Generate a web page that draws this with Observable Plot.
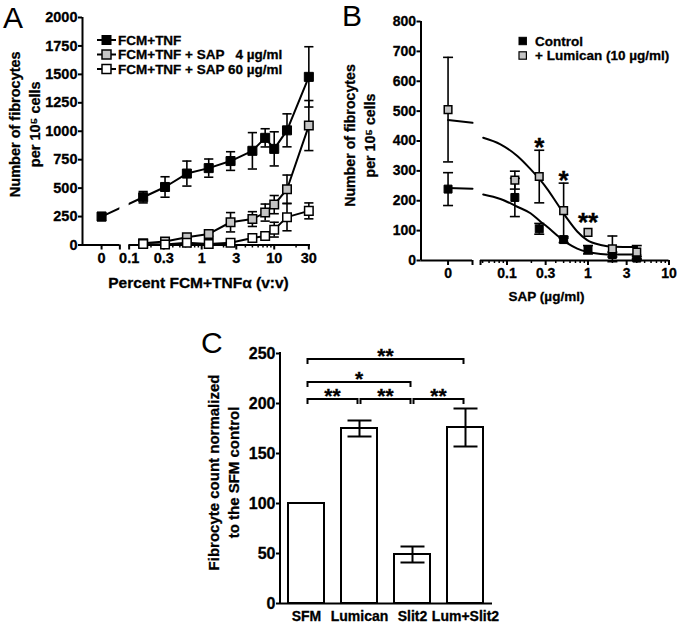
<!DOCTYPE html>
<html>
<head>
<meta charset="utf-8">
<script src="https://cdn.jsdelivr.net/npm/d3@7"></script>
<script src="https://cdn.jsdelivr.net/npm/@observablehq/plot@0.6"></script>
<style>
  html,body{margin:0;padding:0;background:#fff;}
  #fig{position:relative;width:680px;height:624px;overflow:hidden;background:#fff;}
  #fig svg{position:absolute;}
  #fig svg.panel text, #fig g.legend text{stroke:black;stroke-width:0.3px;}
</style>
</head>
<body>
<div id="fig"></div>
<script>
// ================= DATA =================
// Panel A
const concA = [0, 0.156, 0.3125, 0.625, 1.25, 2.5, 5, 7.5, 10, 15, 30];
const fcmTnf = [250, 420, 510, 628, 676, 738, 828, 942, 845, 1008, 1478];
const fcmTnfErr = [35, 50, 90, 110, 80, 82, 160, 80, 150, 145, 265];
const concSapA = [0.156, 0.3125, 0.625, 1.25, 2.5, 5, 7.5, 10, 15, 30];
const sap4 = [15, 30, 68, 97, 200, 228, 285, 355, 490, 1050];
const sap4Err = [10, 15, 18, 20, 85, 65, 75, 80, 125, 220];
const sap60 = [8, 5, 20, 8, 20, 62, 80, 135, 245, 300];
const sap60Err = [5, 5, 8, 5, 10, 15, 20, 65, 120, 70];
const yTicksA = [0, 250, 500, 750, 1000, 1250, 1500, 1750, 2000];
const xMajorA = [0, 0.1, 0.3, 1, 3, 10, 30];
const xMinorA = [0.2, 0.4, 0.5, 0.6, 0.7, 0.8, 0.9, 2, 4, 5, 6, 7, 8, 9, 20];
const legendA = ["FCM+TNF", "FCM+TNF + SAP \u20074 \u00b5g/ml", "FCM+TNF + SAP 60 \u00b5g/ml"];

// Panel B
const concB = [0, 0.125, 0.25, 0.5, 1, 2, 4];
const controlB = [239, 211, 106, 70, 36, 20, 8];
const controlErrB = [55, 64, 18, 10, 14, 8, 5];
const lumicanB = [505, 269, 281, 167, 94, 39, 28];
const lumicanErrB = [175, 30, 88, 92, 0, 43, 22];
const fitConcB = [0.0508, 0.083, 0.134, 0.195, 0.26, 0.313, 0.417, 0.554, 0.736, 0.977, 1.43, 2.08, 4.04];
const fitControlB = [221, 206, 180, 158, 130, 113, 84, 58, 40, 29, 22, 20, 20];
const fitLumicanB = [411, 389, 350, 306, 268, 240, 190, 140, 97, 68, 52, 46, 45];
const fitZeroControlB = [243, 240];
const fitZeroLumicanB = [470, 461];
const starConcB = [0.25, 0.5, 1];
const starYB = [400, 290, 148];
const starTextB = ["*", "*", "**"];
const yTicksB = [0, 100, 200, 300, 400, 500, 600, 700, 800];
const xMajorB = [0, 0.1, 0.3, 1, 3, 10];
const xMinorB = [0.05, 0.06, 0.07, 0.08, 0.09, 0.2, 0.4, 0.5, 0.6, 0.7, 0.8, 0.9, 2, 4, 5, 6, 7, 8, 9];
const legendB = ["Control", "+ Lumican (10 \u00b5g/ml)"];

// Panel C
const groupsC = ["SFM", "Lumican", "Slit2", "Lum+Slit2"];
const valuesC = [100, 175, 49, 176];
const errC = [0, 8, 8, 19];
const yTicksC = [0, 50, 100, 150, 200, 250];
const bracketFromC = ["SFM", "Lumican", "Slit2", "SFM", "SFM"];
const bracketToC = ["Lumican", "Slit2", "Lum+Slit2", "Slit2", "Lum+Slit2"];
const bracketYC = [204, 204, 204, 221, 244];
const bracketTextC = ["**", "**", "**", "*", "**"];

// ================= STYLE / LAYOUT =================
const FONT = '"Liberation Sans", Arial, Helvetica, sans-serif';
const GRAY = "#c4c4c4";
const plain = d => String(d);
const baseStyle = {fontFamily: FONT, fontWeight: "bold", color: "black", background: "none", overflow: "visible"};
const capSymbol = {draw(ctx, size) { const w = Math.sqrt(size / Math.PI); ctx.moveTo(-w, 0); ctx.lineTo(w, 0); }};
const rowsOf = (xs, ys, es) => xs.map((x, i) => ({x, y: ys[i], e: es ? es[i] : 0}));

function errorBars(rows, xf, capR, sw) {
  const r = rows.filter(d => d.e > 0);
  return [
    Plot.ruleX(r, {x: xf, y1: d => d.y - d.e, y2: d => d.y + d.e, stroke: "black", strokeWidth: sw}),
    Plot.dot(r, {x: xf, y: d => d.y + d.e, symbol: capSymbol, r: capR, stroke: "black", strokeWidth: sw, fill: "none"}),
    Plot.dot(r, {x: xf, y: d => d.y - d.e, symbol: capSymbol, r: capR, stroke: "black", strokeWidth: sw, fill: "none"})
  ];
}

const fig = document.getElementById("fig");
function place(svg, left, top) { svg.classList.add("panel"); svg.style.left = left + "px"; svg.style.top = top + "px"; fig.appendChild(svg); }

// ================= PANEL A =================
const A_DOMAIN = [-1.643, 1.5];
const A_ZERO = -1.38;
const A_BREAK = [-1.128, -1.0];
const posA = v => v === 0 ? A_ZERO : Math.log10(v);
const labA = new Map(xMajorA.map(v => [posA(v), String(v)]));
const rA1 = rowsOf(concA, fcmTnf, fcmTnfErr);
const rA2 = rowsOf(concSapA, sap4, sap4Err);
const rA3 = rowsOf(concSapA, sap60, sap60Err);
const xa = d => posA(d.x);

const plotA = Plot.plot({
  width: 340, height: 300,
  marginLeft: 82, marginRight: 30, marginTop: 17, marginBottom: 55.5,
  x: {type: "linear", domain: A_DOMAIN},
  y: {domain: [0, 2000]},
  style: baseStyle,
  marks: [
    Plot.line(rA1, {x: xa, y: "y", stroke: "black", strokeWidth: 2}),
    Plot.rect([A_BREAK], {x1: d => d[0], x2: d => d[1], y1: 0, y2: 2000, fill: "white"}),
    Plot.line(rA2, {x: xa, y: "y", stroke: "black", strokeWidth: 2}),
    Plot.line(rA3, {x: xa, y: "y", stroke: "black", strokeWidth: 2}),
    Plot.ruleX([A_DOMAIN[0]], {y1: 0, y2: 2000, strokeWidth: 2}),
    Plot.ruleY([[A_DOMAIN[0], A_BREAK[0]], [A_BREAK[1], A_DOMAIN[1]]], {y: () => 0, x1: d => d[0], x2: d => d[1], strokeWidth: 2}),
    Plot.axisY({ticks: yTicksA, tickFormat: plain, tickSize: 4, tickPadding: 1, fontSize: 14.5, strokeWidth: 2, label: null}),
    Plot.axisX({ticks: [...xMajorA.map(posA), A_BREAK[0]], tickFormat: p => labA.get(p) ?? "", tickSize: 5, tickPadding: 3, fontSize: 14.5, strokeWidth: 2, label: null}),
    Plot.axisX({ticks: xMinorA.map(Math.log10), tickFormat: () => "", tickSize: 3, strokeWidth: 1.5, label: null}),
    ...errorBars(rA1, xa, 4.6, 1.6),
    Plot.dot(rA1, {x: xa, y: "y", symbol: "square", r: 5.1, fill: "black", stroke: "black", strokeWidth: 1}),
    ...errorBars(rA2, xa, 4.6, 1.6),
    Plot.dot(rA2, {x: xa, y: "y", symbol: "square", r: 4.8, fill: GRAY, stroke: "black", strokeWidth: 1.5}),
    ...errorBars(rA3, xa, 4.6, 1.6),
    Plot.dot(rA3, {x: xa, y: "y", symbol: "square", r: 4.8, fill: "white", stroke: "black", strokeWidth: 1.5}),
    Plot.text(["Number of fibrocytes\nper 10\u2075 cells"], {frameAnchor: "left", textAnchor: "middle", rotate: -90, dx: -59, dy: -7, fontSize: 14.5, lineHeight: 1.38}),
    Plot.text(["Percent FCM+TNF\u03b1 (v:v)"], {frameAnchor: "bottom", textAnchor: "middle", lineAnchor: "middle", dx: 2, dy: 38.5, fontSize: 15.5})
  ]
});
place(plotA, 0, 0);

// ================= PANEL B =================
const B_DOMAIN = [-2.062, 1.0];
const B_ZERO = -1.728;
const B_BREAK = [-1.426, -1.327];
const posB = v => v === 0 ? B_ZERO : Math.log10(v);
const labB = new Map(xMajorB.map(v => [posB(v), String(v)]));
const rB1 = rowsOf(concB, controlB, controlErrB);
const rB2 = rowsOf(concB, lumicanB, lumicanErrB);
const xb = d => posB(d.x);
const fitC = rowsOf(fitConcB, fitControlB);
const fitL = rowsOf(fitConcB, fitLumicanB);
const zeroC = [{p: B_ZERO, y: fitZeroControlB[0]}, {p: B_BREAK[0], y: fitZeroControlB[1]}];
const zeroL = [{p: B_ZERO, y: fitZeroLumicanB[0]}, {p: B_BREAK[0], y: fitZeroLumicanB[1]}];
const starsB = starConcB.map((c, i) => ({x: c, y: starYB[i], t: starTextB[i]}));

const plotB = Plot.plot({
  width: 340, height: 300,
  marginLeft: 80.5, marginRight: 11.5, marginTop: 21, marginBottom: 40,
  x: {type: "linear", domain: B_DOMAIN},
  y: {domain: [0, 800]},
  style: baseStyle,
  marks: [
    Plot.line(fitC, {x: xb, y: "y", stroke: "black", strokeWidth: 2, curve: "monotone-x"}),
    Plot.line(fitL, {x: xb, y: "y", stroke: "black", strokeWidth: 2, curve: "monotone-x"}),
    Plot.line(zeroC, {x: "p", y: "y", stroke: "black", strokeWidth: 2}),
    Plot.line(zeroL, {x: "p", y: "y", stroke: "black", strokeWidth: 2}),
    Plot.ruleX([B_DOMAIN[0]], {y1: 0, y2: 800, strokeWidth: 2}),
    Plot.ruleY([[B_DOMAIN[0], B_BREAK[0]], [B_BREAK[1], B_DOMAIN[1]]], {y: () => 0, x1: d => d[0], x2: d => d[1], strokeWidth: 2}),
    Plot.axisY({ticks: yTicksB, tickFormat: plain, tickSize: 4, tickPadding: 1, fontSize: 14, strokeWidth: 2, label: null}),
    Plot.axisX({ticks: [...xMajorB.map(posB), B_BREAK[0], B_BREAK[1]], tickFormat: p => labB.get(p) ?? "", tickSize: 5, tickPadding: 3, fontSize: 14, strokeWidth: 2, label: null}),
    Plot.axisX({ticks: xMinorB.map(Math.log10), tickFormat: () => "", tickSize: 3, strokeWidth: 1.5, label: null}),
    ...errorBars(rB1, xb, 5, 1.6),
    ...errorBars(rB2, xb, 5, 1.6),
    Plot.dot(rB1, {x: xb, y: "y", symbol: "square", r: 4.5, fill: "black", stroke: "black", strokeWidth: 1}),
    Plot.dot(rB2, {x: xb, y: "y", symbol: "square", r: 4.3, fill: GRAY, stroke: "black", strokeWidth: 1.5}),
    Plot.text(starsB, {x: xb, y: "y", text: "t", fontSize: 26, dy: 6.5, textAnchor: "middle"}),
    Plot.text(["Number of fibrocytes\nper 10\u2075 cells"], {frameAnchor: "left", textAnchor: "middle", rotate: -90, dx: -62.5, dy: -5.5, fontSize: 14.2, lineHeight: 1.38}),
    Plot.text(["SAP (\u00b5g/ml)"], {frameAnchor: "bottom", textAnchor: "middle", lineAnchor: "middle", dx: 1.5, dy: 36, fontSize: 13.5})
  ]
});
place(plotB, 340, 0);

// ================= PANEL C =================
const rC = groupsC.map((g, i) => ({g, v: valuesC[i], e: errC[i]}));
const rCe = rC.filter(d => d.e > 0);

function yAxisLine(top) {
  return (index, scales, values, dims) => {
    const x = dims.marginLeft;
    return d3.create("svg:line").attr("x1", x).attr("x2", x)
      .attr("y1", scales.y(0)).attr("y2", scales.y(top))
      .attr("stroke", "black").attr("stroke-width", 2).attr("stroke-linecap", "square").node();
  };
}
function bracketsMark(from, to, ys, labels) {
  return (index, scales, values, dims) => {
    const sx = scales.x, sy = scales.y;
    const bw = sx.bandwidth ? sx.bandwidth() / 2 : 0;
    const g = d3.create("svg:g");
    from.forEach((f, i) => {
      const x1 = sx(f) + bw + 1.5, x2 = sx(to[i]) + bw - 1.5, yy = sy(ys[i]);
      g.append("path").attr("d", `M${x1},${yy + 5}V${yy}H${x2}V${yy + 5}`)
        .attr("fill", "none").attr("stroke", "black").attr("stroke-width", 2);
      g.append("text").attr("x", (x1 + x2) / 2).attr("y", yy + 4).attr("text-anchor", "middle")
        .attr("font-size", 21).attr("fill", "black").text(labels[i]);
    });
    return g.node();
  };
}

const plotC = Plot.plot({
  width: 340, height: 324,
  marginLeft: 110, marginRight: 18, marginTop: 53, marginBottom: 21,
  x: {type: "band", domain: groupsC, paddingInner: 0.32, paddingOuter: 0.16},
  y: {domain: [0, 250]},
  style: baseStyle,
  marks: [
    Plot.barY(rC, {x: "g", y: "v", fill: "white", stroke: "black", strokeWidth: 2}),
    Plot.ruleX(rCe, {x: "g", y1: d => d.v - d.e, y2: d => d.v + d.e, stroke: "black", strokeWidth: 2}),
    Plot.dot(rCe, {x: "g", y: d => d.v + d.e, symbol: capSymbol, r: 12, stroke: "black", strokeWidth: 2}),
    Plot.dot(rCe, {x: "g", y: d => d.v - d.e, symbol: capSymbol, r: 12, stroke: "black", strokeWidth: 2}),
    Plot.ruleY([0], {strokeWidth: 2}),
    yAxisLine(250),
    Plot.axisY({ticks: yTicksC, tickFormat: plain, tickSize: 4, tickPadding: 1, fontSize: 16, strokeWidth: 2, label: null}),
    Plot.axisX({tickSize: 0, tickPadding: 8, fontSize: 14, label: null}),
    bracketsMark(bracketFromC, bracketToC, bracketYC, bracketTextC),
    Plot.text(["Fibrocyte count normalized\nto the SFM control"], {frameAnchor: "left", textAnchor: "middle", rotate: -90, dx: -58, dy: -6, fontSize: 15, lineHeight: 1.33})
  ]
});
place(plotC, 170, 300);

// ================= OVERLAY: panel letters & legends =================
const ov = d3.create("svg").attr("width", 680).attr("height", 624)
  .style("left", "0px").style("top", "0px").attr("font-family", FONT);
const letters = [["A", 3, 28], ["B", 342, 26], ["C", 201, 353]];
ov.selectAll("text.letter").data(letters).join("text").attr("class", "letter")
  .attr("x", d => d[1]).attr("y", d => d[2]).attr("font-size", 30).text(d => d[0]);

const fillsA = ["black", GRAY, "white"];
const gA = ov.append("g").attr("class", "legend").attr("font-weight", "bold").attr("font-size", 13.5);
legendA.forEach((name, i) => {
  const cy = 40 + i * 14.5;
  gA.append("line").attr("x1", 97).attr("x2", 116).attr("y1", cy).attr("y2", cy).attr("stroke", "black").attr("stroke-width", 2);
  gA.append("rect").attr("x", 102).attr("y", cy - 4.5).attr("width", 9).attr("height", 9)
    .attr("fill", fillsA[i]).attr("stroke", "black").attr("stroke-width", i ? 1.5 : 1);
  gA.append("text").attr("x", 118).attr("y", cy + 4.9).text(name);
});
const fillsB = ["black", GRAY];
const gB = ov.append("g").attr("class", "legend").attr("font-weight", "bold").attr("font-size", 13.5);
legendB.forEach((name, i) => {
  const cy = 41 + i * 14.5;
  gB.append("rect").attr("x", 519).attr("y", cy - 3.7).attr("width", 7.4).attr("height", 7.4)
    .attr("fill", fillsB[i]).attr("stroke", "black").attr("stroke-width", i ? 1.2 : 1);
  gB.append("text").attr("x", 535).attr("y", cy + 4.8).text(name);
});
fig.appendChild(ov.node());
</script>
</body>
</html>
